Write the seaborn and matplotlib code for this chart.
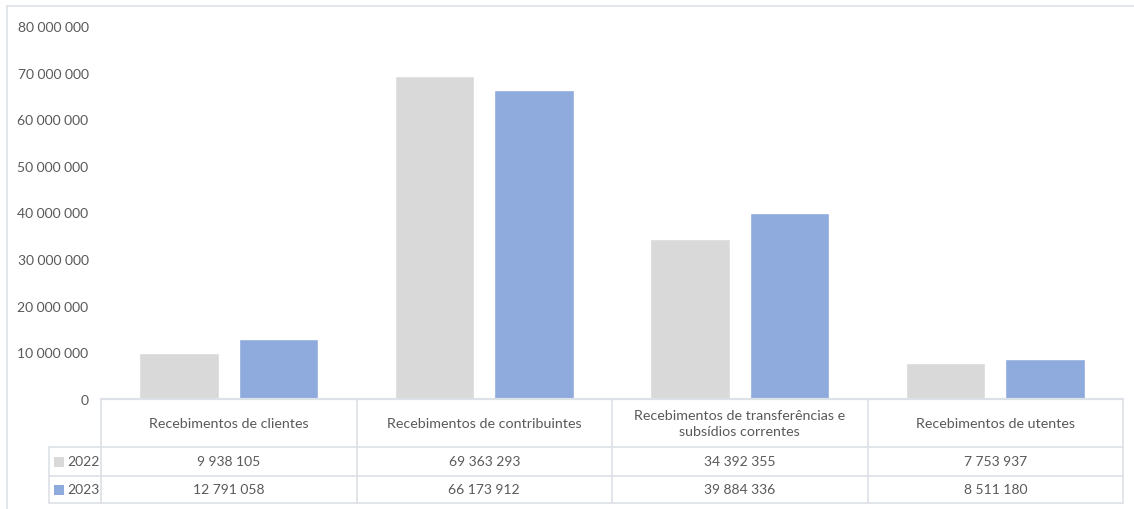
import matplotlib
matplotlib.use("Agg")
import matplotlib.pyplot as plt
import seaborn as sns
import pandas as pd
from matplotlib.lines import Line2D
from matplotlib.patches import Rectangle

categories = [
    "Recebimentos de clientes",
    "Recebimentos de contribuintes",
    "Recebimentos de transferências e\nsubsídios correntes",
    "Recebimentos de utentes",
]
years = ["2022", "2023"]
values_2022 = [9938105, 69363293, 34392355, 7753937]
values_2023 = [12791058, 66173912, 39884336, 8511180]
y_ticks = [0, 10000000, 20000000, 30000000, 40000000, 50000000, 60000000, 70000000, 80000000]

colors = {"2022": "#D9D9D9", "2023": "#8FAADC"}
text_color = "#595959"
line_color = "#DDE1E8"

sns.set_theme(style="white")
plt.rcParams["font.family"] = ["Lato", "DejaVu Sans"]

W, H = 1134, 510
fig = plt.figure(figsize=(W / 100, H / 100), dpi=100)


def fx(x):
    return x / W


def fy(y):
    return 1 - y / H


def fmt(v):
    return f"{v:,}".replace(",", " ")


# plot area
left, right, top, bottom = 101, 1123, 27, 400
ax = fig.add_axes([fx(left), fy(bottom), fx(right) - fx(left), fy(top) - fy(bottom)])

df = pd.DataFrame({
    "categoria": categories * 2,
    "ano": [years[0]] * 4 + [years[1]] * 4,
    "valor": values_2022 + values_2023,
})
sns.barplot(data=df, x="categoria", y="valor", hue="ano", palette=colors,
            width=0.78, gap=0.2, ax=ax, legend=False, saturation=1)

ax.set_xlim(-0.5, 3.5)
ax.set_ylim(0, 80000000)
ax.set_yticks(y_ticks)
ax.set_yticklabels([fmt(v) for v in y_ticks], fontsize=10, color=text_color)
ax.tick_params(axis="y", length=0, pad=9)
ax.set_xticks([])
ax.set_xlabel("")
ax.set_ylabel("")
for s in ax.spines.values():
    s.set_visible(False)

# outer chart frame (top and left edges)
fig.add_artist(Line2D([fx(7), fx(W)], [fy(7), fy(7)], transform=fig.transFigure,
                      color=line_color, lw=1.2))
fig.add_artist(Line2D([fx(7), fx(7)], [fy(7), fy(H)], transform=fig.transFigure,
                      color=line_color, lw=1.2))

# data table below the axis
col_edges = [101, 356.5, 612, 867.5, 1123]
row_edges = [400, 448, 477, 504]
leg_left = 49

fig.add_artist(Line2D([fx(left), fx(right)], [fy(400), fy(400)], transform=fig.transFigure,
                      color=line_color, lw=1.6))
for y in row_edges[1:]:
    fig.add_artist(Line2D([fx(leg_left), fx(right)], [fy(y), fy(y)], transform=fig.transFigure,
                          color=line_color, lw=1.2))
for x in col_edges:
    fig.add_artist(Line2D([fx(x), fx(x)], [fy(400), fy(504)], transform=fig.transFigure,
                          color=line_color, lw=1.2))
fig.add_artist(Line2D([fx(leg_left), fx(leg_left)], [fy(448), fy(504)], transform=fig.transFigure,
                      color=line_color, lw=1.2))

for i, cat in enumerate(categories):
    cx = (col_edges[i] + col_edges[i + 1]) / 2
    fig.text(fx(cx), fy(424), cat, ha="center", va="center", fontsize=10.3,
             color=text_color, linespacing=1.35)
    for j, vals in enumerate([values_2022, values_2023]):
        cy = (row_edges[j + 1] + row_edges[j + 2]) / 2
        fig.text(fx(cx), fy(cy), fmt(vals[i]), ha="center",
                 va="center", fontsize=10, color=text_color)

for j, yr in enumerate(years):
    cy = (row_edges[j + 1] + row_edges[j + 2]) / 2
    fig.add_artist(Rectangle((fx(54), fy(cy + 5)), fx(10), 10 / H,
                             transform=fig.transFigure, color=colors[yr], lw=0))
    fig.text(fx(67), fy(cy), yr, ha="left", va="center", fontsize=10, color=text_color)

fig.savefig("out.png", dpi=100, facecolor="white")
